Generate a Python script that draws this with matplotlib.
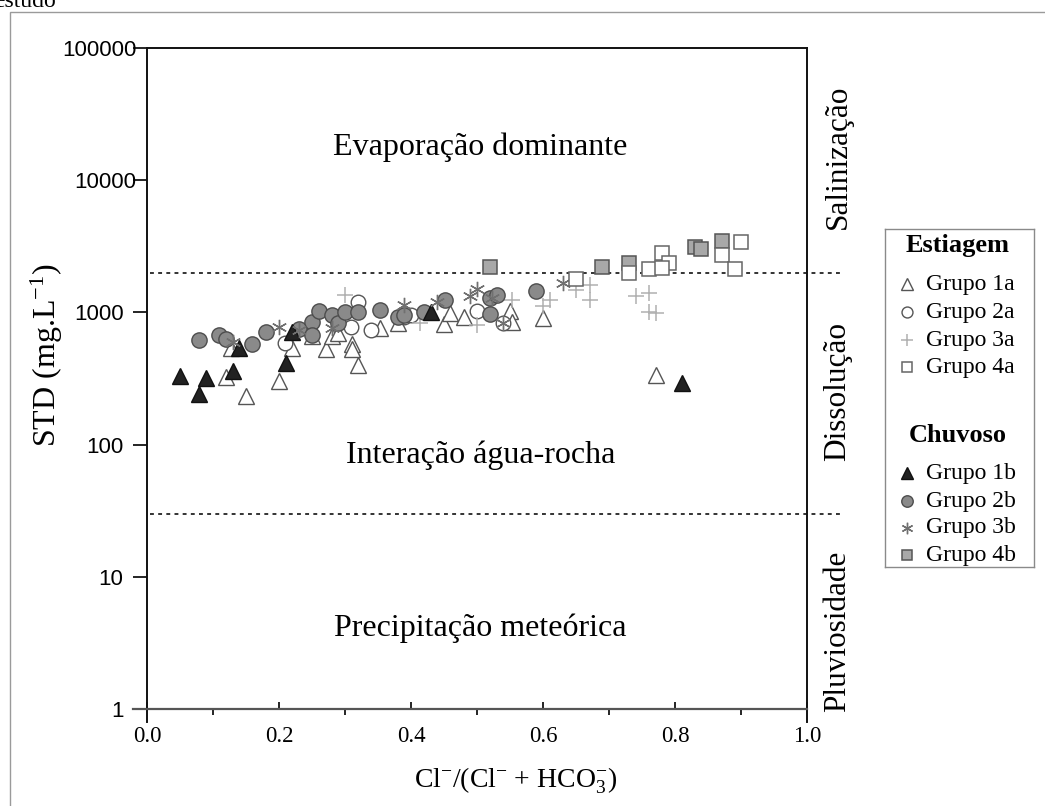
import matplotlib
matplotlib.use('Agg')
import matplotlib.pyplot as plt
from matplotlib.patches import Rectangle
from matplotlib.ticker import NullLocator
import numpy as np

plt.rcParams['font.family'] = ['Liberation Serif', 'DejaVu Serif']
plt.rcParams['mathtext.fontset'] = 'custom'
plt.rcParams['mathtext.rm'] = 'Liberation Serif'
plt.rcParams['mathtext.it'] = 'Liberation Serif:italic'
plt.rcParams['mathtext.bf'] = 'Liberation Serif:bold'

# ---------------- data ----------------
g1a_x = [0.12, 0.15, 0.128, 0.20, 0.22, 0.25, 0.271, 0.28, 0.29, 0.31, 0.31, 0.32, 0.353,
         0.38, 0.45, 0.459, 0.48, 0.55, 0.553, 0.60, 0.771]
g1a_y = [325, 235, 535, 302, 535, 660, 525, 660, 695, 575, 525, 400, 760,
         830, 815, 990, 930, 1025, 850, 910, 335]

g2a_x = [0.209, 0.309, 0.32, 0.339, 0.39, 0.40, 0.50, 0.54]
g2a_y = [590, 770, 1200, 740, 930, 960, 1025, 835]

g3a_x = [0.30, 0.414, 0.50, 0.553, 0.60, 0.61, 0.65, 0.671, 0.671, 0.741, 0.761, 0.761, 0.771]
g3a_y = [1350, 830, 800, 1235, 1120, 1235, 1480, 1620, 1235, 1320, 1390, 1000, 985]

g4a_x = [0.65, 0.73, 0.761, 0.781, 0.791, 0.78, 0.871, 0.891, 0.90]
g4a_y = [1780, 1970, 2115, 2830, 2350, 2150, 2700, 2115, 3430]

g1b_x = [0.05, 0.079, 0.089, 0.13, 0.139, 0.21, 0.219, 0.431, 0.81]
g1b_y = [330, 240, 317, 362, 540, 415, 715, 1010, 290]

g2b_x = [0.079, 0.109, 0.12, 0.159, 0.18, 0.23, 0.25, 0.25, 0.261, 0.28, 0.29, 0.30, 0.32,
         0.353, 0.381, 0.389, 0.419, 0.452, 0.52, 0.53, 0.52, 0.59]
g2b_y = [620, 675, 630, 580, 705, 750, 850, 675, 1025, 955, 830, 1010, 1000,
         1045, 930, 955, 1010, 1235, 1285, 1350, 980, 1450]

g3b_x = [0.131, 0.20, 0.231, 0.28, 0.389, 0.439, 0.489, 0.50, 0.522, 0.54, 0.63]
g3b_y = [600, 775, 740, 760, 1140, 1200, 1320, 1510, 1285, 835, 1660]

g4b_x = [0.52, 0.69, 0.73, 0.83, 0.84, 0.871]
g4b_y = [2190, 2190, 2350, 3100, 3000, 3480]

boundary_levels = [30, 2000]
y_ticks = [1, 10, 100, 1000, 10000, 100000]
y_tick_labels = ['1', '10', '100', '1000', '10000', '100000']
x_ticks = [0.0, 0.2, 0.4, 0.6, 0.8, 1.0]
x_tick_labels = ['0.0', '0.2', '0.4', '0.6', '0.8', '1.0']
x_minor_ticks = [0.1, 0.3, 0.5, 0.7, 0.9]

region_labels = ['Evaporação dominante', 'Interação água-rocha', 'Precipitação meteórica']
region_y = [17800, 83, 4.1]
side_labels = ['Salinização', 'Dissolução', 'Pluviosidade']
side_y = [10**4.175, 10**2.40, 10**0.59]

# marker styles
styles = {
    'Grupo 1a': dict(marker='^', mfc='white', mec='#555555', ms=11, mew=1.0),
    'Grupo 2a': dict(marker='o', mfc='white', mec='#555555', ms=10.5, mew=1.0),
    'Grupo 3a': dict(marker='+', mfc='none', mec='#b0b0b0', ms=11, mew=1.1),
    'Grupo 4a': dict(marker='s', mfc='white', mec='#666666', ms=10.5, mew=1.1),
    'Grupo 1b': dict(marker='^', mfc='#222222', mec='#111111', ms=11, mew=1.0),
    'Grupo 2b': dict(marker='o', mfc='#8a8a8a', mec='#4d4d4d', ms=11, mew=1.0),
    'Grupo 3b': dict(marker=(6, 2, 0), mfc='none', mec='#707070', ms=11, mew=1.0),
    'Grupo 4b': dict(marker='s', mfc='#a8a8a8', mec='#555555', ms=10.5, mew=1.1),
}

W, H = 1045, 806
fig = plt.figure(figsize=(W / 100, H / 100), dpi=100)

# outer page frame and cut caption
fig.patches.append(Rectangle((10 / W, -0.05), 1.1, 1 - 12 / H + 0.05, transform=fig.transFigure,
                             fill=False, edgecolor='#9a9a9a', lw=1.0))
fig.text(-6 / W, 1 - 7 / H, 'estudo', fontsize=17, va='baseline', ha='left')

ax = fig.add_axes([147 / W, 1 - 709 / H, 660 / W, 661 / H])
ax.set_yscale('log')
ax.set_xlim(0, 1)
ax.set_ylim(1, 1e5)

# boundaries
for lvl in boundary_levels:
    ax.plot([0.005, 1.05], [lvl, lvl], ls=(0, (2, 2.2)), color='#333333', lw=1.4,
            clip_on=False, zorder=1)

series = [('Grupo 1a', g1a_x, g1a_y), ('Grupo 2a', g2a_x, g2a_y), ('Grupo 3a', g3a_x, g3a_y),
          ('Grupo 2b', g2b_x, g2b_y), ('Grupo 1b', g1b_x, g1b_y), ('Grupo 3b', g3b_x, g3b_y),
          ('Grupo 4b', g4b_x, g4b_y), ('Grupo 4a', g4a_x, g4a_y)]
for i, (name, xs, ys) in enumerate(series):
    ax.plot(xs, ys, ls='none', zorder=3 + i, **styles[name])

for lab, yv in zip(region_labels, region_y):
    ax.text(0.505, yv, lab, ha='center', va='center', fontsize=23)
for lab, yv in zip(side_labels, side_y):
    ax.text(1.047, yv, lab, ha='center', va='center', rotation=90, fontsize=22.5, clip_on=False)

# ticks
ax.set_yticks(y_ticks)
ax.set_yticklabels(y_tick_labels, fontfamily='Liberation Sans', fontsize=16)
ax.yaxis.set_minor_locator(NullLocator())
ax.tick_params(axis='y', which='major', direction='out', length=10, width=1.2, pad=7)
ax.set_xticks(x_ticks)
ax.set_xticklabels(x_tick_labels, fontsize=16.5)
ax.set_xticks(x_minor_ticks, minor=True)
ax.tick_params(axis='x', which='major', direction='in', length=5, width=1.2, pad=12)
ax.tick_params(axis='x', which='minor', direction='out', length=4, width=1.2)

ax.set_ylabel(r'STD (mg.L$^{-1}$)', fontsize=23, labelpad=2)
ax.yaxis.set_label_coords(-0.124, 0.536)
ax.set_xlabel(r'Cl$^{-}$/(Cl$^{-}$ + HCO$_{3}^{-}$)', fontsize=20)
ax.xaxis.set_label_coords(0.559, -0.085)

for sp in ['left', 'right', 'top']:
    ax.spines[sp].set_linewidth(1.4)
    ax.spines[sp].set_color('#111111')
ax.spines['bottom'].set_linewidth(1.6)
ax.spines['bottom'].set_color('#555555')
ax.spines['left'].set_bounds(0.797, 1e5)
ax.spines['right'].set_bounds(0.797, 1e5)
ax.spines['bottom'].set_bounds(-0.021, 1.0)

# per-tick lengths / pads as in the reference (upper ticks short and close to the axis)
for tk, val in zip(ax.yaxis.get_major_ticks(), y_ticks):
    if val >= 10000:
        tk.tick1line.set_markersize(6)
        tk.set_pad(-2.5)
    else:
        tk.tick1line.set_markersize(10)
        tk.set_pad(7)

# legend box (pixel coordinates)
lax = fig.add_axes([885 / W, 1 - 567 / H, 149 / W, 338 / H])
lax.set_xlim(885, 1034)
lax.set_ylim(567, 229)
lax.set_xticks([])
lax.set_yticks([])
for sp in lax.spines.values():
    sp.set_color('#8a8a8a')
    sp.set_linewidth(1.0)

leg_titles = ['Estiagem', 'Chuvoso']
leg_title_y = [245, 435]
leg_names = ['Grupo 1a', 'Grupo 2a', 'Grupo 3a', 'Grupo 4a', 'Grupo 1b', 'Grupo 2b', 'Grupo 3b', 'Grupo 4b']
leg_y = [284, 312, 340, 367, 473, 501, 528, 555]
for t, yv in zip(leg_titles, leg_title_y):
    lax.text(958, yv, t, ha='center', va='center', fontsize=19, fontweight='bold')
for name, yv in zip(leg_names, leg_y):
    st = dict(styles[name])
    st['ms'] = st['ms'] * 0.75
    lax.plot([907], [yv], ls='none', **st)
    lax.text(926, yv, name, ha='left', va='center', fontsize=17)

fig.savefig('out.png', dpi=100)
